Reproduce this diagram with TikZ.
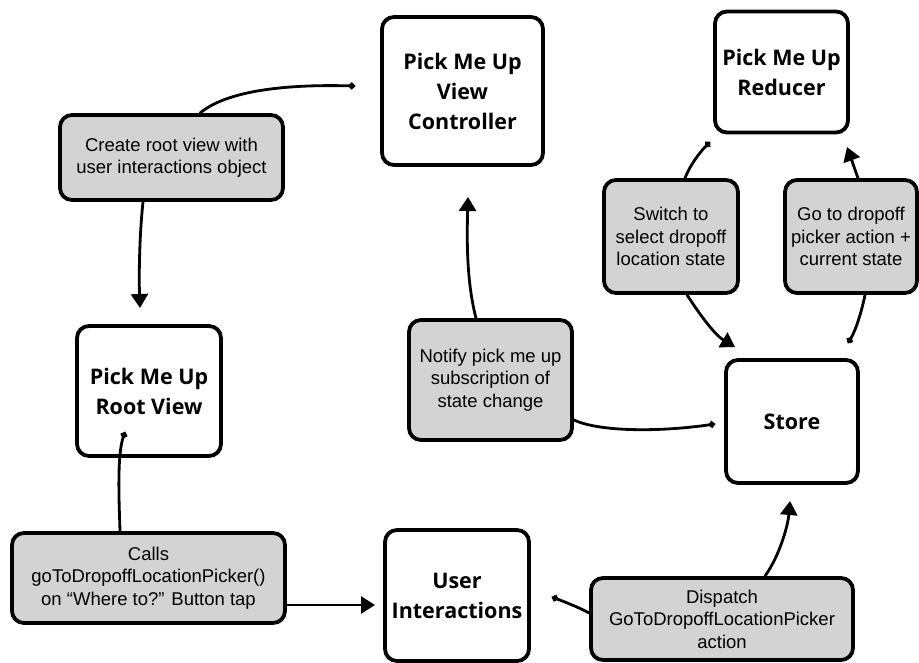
\documentclass[tikz,border=0pt]{standalone}
\usepackage{fontspec}
\setmainfont{Liberation Sans}
\newfontfamily\titlefont{Open Sans}
\usetikzlibrary{arrows.meta}
\definecolor{boxgray}{HTML}{D3D3D3}
\tikzset{
  base/.style={draw=black, line width=3.8pt, rounded corners=12pt, inner sep=0pt, align=center},
  titlebox/.style={base, fill=white, font=\titlefont\bfseries\fontsize{21.5}{30}\selectfont},
  notebox/.style={base, fill=boxgray, font=\fontsize{18.5}{22.5}\selectfont},
  conn/.style={line width=2.8pt, line cap=round},
  arr/.style={conn, -{Triangle[width=17pt,length=14pt]}},
  dotline/.style={conn, {Circle[length=6.5pt]}-},
}
\begin{document}
\begin{tikzpicture}[x=1pt,y=-1pt]
\useasboundingbox (0,0) rectangle (919,662);
% boxes
\node[titlebox, minimum width=161pt, minimum height=148pt] (vc) at (462.5,91) {Pick Me Up\\View\\Controller};
\node[titlebox, minimum width=133pt, minimum height=121pt] (red) at (781.5,72) {Pick Me Up\\Reducer};
\node[notebox, minimum width=223pt, minimum height=85pt] (create) at (171.5,157.5) {Create root view with\\user interactions object};
\node[titlebox, minimum width=144pt, minimum height=130pt] (root) at (149,391) {Pick Me Up\\Root View};
\node[notebox, minimum width=273pt, minimum height=90pt] (calls) at (148.5,578) {Calls\\goToDropoffLocationPicker()\\on “Where to?” Button tap};
\node[titlebox, minimum width=144pt, minimum height=131pt] (ui) at (457,595.5) {User\\Interactions};
\node[notebox, minimum width=262pt, minimum height=82pt] (disp) at (722,619) {Dispatch\\GoToDropoffLocationPicker\\action};
\node[titlebox, minimum width=132pt, minimum height=123pt] (store) at (792,421.5) {Store};
\node[notebox, minimum width=163pt, minimum height=120pt] (notify) at (490.5,380) {Notify pick me up\\subscription of\\state change};
\node[notebox, minimum width=134pt, minimum height=113pt] (switch) at (671,236.5) {Switch to\\select dropoff\\location state};
\node[notebox, minimum width=132pt, minimum height=113pt] (go) at (851,236.5) {Go to dropoff\\picker action +\\current state};
% free ends
\coordinate (vcout) at (355,86);
\coordinate (roottip) at (140,308);
\coordinate (rootout) at (125,432);
\coordinate (uitip) at (375,605);
\coordinate (uiout) at (552,597);
\coordinate (storetip) at (790,501);
\coordinate (storeout) at (715,424);
\coordinate (vctip) at (468,197);
\coordinate (redout) at (710,142);
\coordinate (storetip2) at (735,347);
\coordinate (storeout2) at (848,343);
\coordinate (redtip) at (847,147);
% connectors
\draw[dotline] (vcout) .. controls (280,84) and (225,92) .. ([xshift=28.5pt]create.north);
\draw[arr] ([xshift=-28.5pt]create.south) .. controls (139,240) and (139,280) .. (roottip);
\draw[dotline] (rootout) .. controls (117,455) and (119,500) .. ([xshift=-28.5pt]calls.north);
\draw[arr] ([yshift=-27pt]calls.east) -- (uitip);
\draw[dotline] (uiout) .. controls (565,602) and (578,607) .. ([yshift=6pt]disp.west);
\draw[arr] ([xshift=43pt]disp.north) .. controls (780,555) and (788,525) .. (storetip);
\draw[dotline] (storeout) .. controls (660,432) and (600,432) .. ([yshift=-40pt]notify.east);
\draw[arr] ([xshift=-14.5pt]notify.north) .. controls (466,280) and (467,235) .. (vctip);
\draw[dotline] (redout) .. controls (700,152) and (690,165) .. ([xshift=14pt]switch.north);
\draw[arr] ([xshift=16pt]switch.south) .. controls (700,315) and (715,335) .. (storetip2);
\draw[dotline] (storeout2) .. controls (856,330) and (862,310) .. ([xshift=14pt]go.south);
\draw[arr] ([xshift=7pt]go.north) .. controls (855,170) and (851,158) .. (redtip);
\end{tikzpicture}
\end{document}
